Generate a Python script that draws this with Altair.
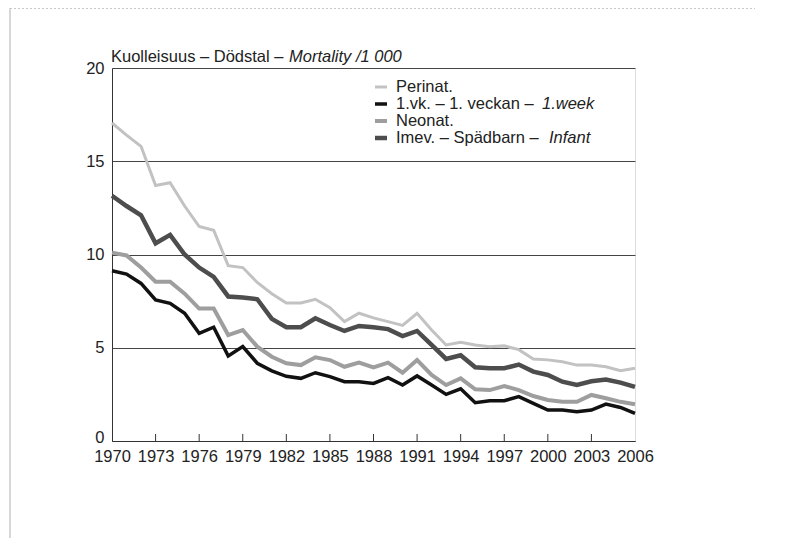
import altair as alt
import pandas as pd

# ---- data ----
years = list(range(1970, 2007))
perinat = [17.05, 16.4, 15.8, 13.7, 13.85, 12.6, 11.5, 11.3, 9.4, 9.3,
           8.5, 7.9, 7.4, 7.4, 7.6, 7.15, 6.4, 6.85, 6.6, 6.4,
           6.2, 6.85, 5.95, 5.15, 5.3, 5.15, 5.05, 5.1, 4.9, 4.4,
           4.35, 4.25, 4.07, 4.07, 3.98, 3.77, 3.9]
week1 = [9.13, 8.95, 8.45, 7.56, 7.38, 6.85, 5.77, 6.1, 4.56, 5.06,
         4.17, 3.76, 3.47, 3.36, 3.66, 3.45, 3.18, 3.18, 3.09, 3.4,
         3.0, 3.49, 3.0, 2.5, 2.8, 2.05, 2.16, 2.16, 2.38, 2.02,
         1.66, 1.66, 1.57, 1.66, 1.98, 1.8, 1.48]
neonat = [10.1, 9.95, 9.3, 8.54, 8.54, 7.9, 7.1, 7.1, 5.68, 5.95,
          5.06, 4.52, 4.17, 4.07, 4.49, 4.34, 3.98, 4.2, 3.95, 4.2,
          3.66, 4.34, 3.54, 3.0, 3.36, 2.77, 2.73, 2.95, 2.73, 2.41,
          2.2, 2.1, 2.1, 2.47, 2.29, 2.1, 1.97]
infant = [13.15, 12.6, 12.1, 10.6, 11.05, 10.0, 9.3, 8.8, 7.75, 7.7,
          7.6, 6.55, 6.1, 6.1, 6.58, 6.22, 5.9, 6.17, 6.1, 6.0,
          5.63, 5.9, 5.15, 4.4, 4.6, 3.95, 3.9, 3.9, 4.1, 3.72,
          3.54, 3.18, 3.0, 3.2, 3.3, 3.13, 2.9]
series_names = ["Perinat.", "1.vk.", "Neonat.", "Imev."]
series_colors = ["#c2c2c2", "#111111", "#9e9e9e", "#4d4d4d"]
series_widths = [3.0, 4.5, 4.5, 2.5]
x_label_years = list(range(1970, 2007, 3))
tick_years = list(range(1973, 2006, 3))
y_ticks = [0, 5, 10, 15, 20]

legend_normal = ["Perinat.", "1.vk. – 1. veckan – ", "Neonat.", "Imev. – Spädbarn – "]
legend_italic = ["", "1.week", "", "Infant"]
title_normal = "Kuolleisuus – Dödstal – "
title_italic = "Mortality /1 000"

FONT = "Liberation Sans, Arial, sans-serif"
AX_SIZE = 16.5
LEG_SIZE = 16.5
W, H = 523, 373

rows = []
for name, vals in zip(series_names, [perinat, week1, neonat, infant]):
    for yr, v in zip(years, vals):
        rows.append({"year": yr, "value": v, "series": name})
df = pd.DataFrame(rows)

x_scale = alt.Scale(domain=[1970, 2006], nice=False, zero=False)
y_scale = alt.Scale(domain=[0, 20], nice=False)
color_scale = alt.Scale(domain=series_names, range=series_colors)
width_scale = alt.Scale(domain=series_names, range=series_widths)

base = alt.Chart(df)

axes_layer = base.mark_line(opacity=0).encode(
    x=alt.X("year:Q", scale=x_scale,
            axis=alt.Axis(values=x_label_years, format="d", title=None, ticks=False,
                          grid=False, labelFontSize=AX_SIZE, labelPadding=7, labelFlush=False,
                          labelFont=FONT, labelColor="#222", domainColor="#333")),
    y=alt.Y("value:Q", scale=y_scale,
            axis=alt.Axis(values=y_ticks, title=None, ticks=False, grid=True,
                          gridColor="#444", gridWidth=1, labelFontSize=AX_SIZE, labelPadding=8,
                          labelOffset={"condition": {"test": "datum.value == 0", "value": -4}, "value": 0},
                          labelFont=FONT, labelColor="#222", domainColor="#333")),
)

lines = base.mark_line(strokeJoin="miter").encode(
    x=alt.X("year:Q", scale=x_scale),
    y=alt.Y("value:Q", scale=y_scale),
    color=alt.Color("series:N", scale=color_scale, legend=None),
    strokeWidth=alt.StrokeWidth("series:N", scale=width_scale, legend=None),
    detail="series:N",
)

ticks = alt.Chart(pd.DataFrame({"year": tick_years})).mark_rule(color="#333", strokeWidth=1).encode(
    x=alt.X("year:Q", scale=x_scale),
    y=alt.value(H),
    y2=alt.value(H - 7),
)

# legend (custom, inside plot)
leg_df = pd.DataFrame({"normal": legend_normal, "italic": legend_italic, "series": series_names})
leg_df["py"] = [19, 36, 53, 70]

leg_sym = alt.Chart(leg_df).mark_rule().encode(
    x=alt.value(263), x2=alt.value(275),
    y=alt.Y("py:Q", scale=None),
    color=alt.Color("series:N", scale=color_scale, legend=None),
    strokeWidth=alt.StrokeWidth("series:N", scale=width_scale, legend=None),
)
leg_text = alt.Chart(leg_df).mark_text(align="left", baseline="middle", font=FONT, fontSize=LEG_SIZE,
                                       color="#222").encode(
    x=alt.value(284), y=alt.Y("py:Q", scale=None), text="normal:N")
leg_it_df = leg_df[leg_df["italic"] != ""].copy()
leg_it_df["px"] = [430, 437]
leg_text_it = alt.Chart(leg_it_df).mark_text(align="left", baseline="middle", font=FONT, fontSize=LEG_SIZE,
                                             fontStyle="italic", color="#222").encode(
    x=alt.X("px:Q", scale=None), y=alt.Y("py:Q", scale=None), text="italic:N")

title_df = pd.DataFrame({"normal": [title_normal], "italic": [title_italic]})
title_n = alt.Chart(title_df).mark_text(align="left", baseline="alphabetic", font=FONT, fontSize=AX_SIZE,
                                        color="#222").encode(
    x=alt.value(-1), y=alt.value(-6), text="normal:N")
title_i = alt.Chart(title_df).mark_text(align="left", baseline="alphabetic", font=FONT, fontSize=AX_SIZE,
                                        fontStyle="italic", color="#222").encode(
    x=alt.value(177), y=alt.value(-6), text="italic:N")

# faint scan border
border_df = pd.DataFrame({"k": [0]})
border_left = alt.Chart(border_df).mark_rule(color="#b0b0b0", strokeWidth=1).encode(
    x=alt.value(-102), y=alt.value(-60), y2=alt.value(475))
border_top = alt.Chart(border_df).mark_rule(color="#c8c8c8", strokeWidth=1, strokeDash=[2, 2]).encode(
    x=alt.value(-102), x2=alt.value(668), y=alt.value(-59.5))

chart = alt.layer(
    axes_layer, ticks, lines, leg_sym, leg_text, leg_text_it, title_n, title_i, border_left, border_top
).properties(
    width=W, height=H,
    autosize=alt.AutoSizeParams(type="none"),
    padding={"left": 104, "top": 60, "right": 120, "bottom": 97},
).configure_view(stroke="#333", strokeWidth=1).configure(background="white")

chart.save("out.html", embed_options={"renderer": "svg", "actions": False})
